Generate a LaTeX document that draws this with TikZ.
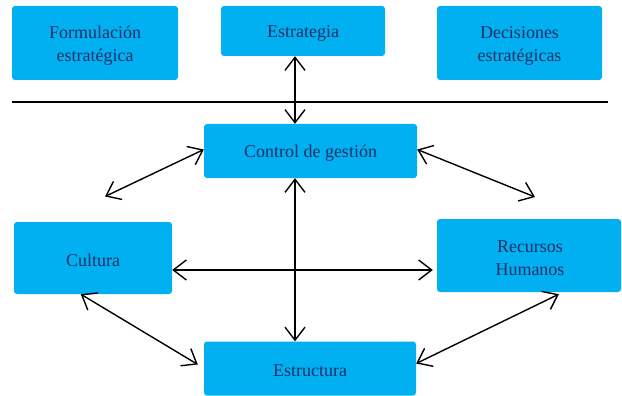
\documentclass[tikz,border=0pt]{standalone}
\usepackage{fontspec}
\setmainfont{Liberation Serif}
\usetikzlibrary{arrows.meta,calc}
\definecolor{boxblue}{HTML}{00B0F0}
\definecolor{txtblue}{RGB}{28,48,105}
\tikzset{
  box/.style={fill=boxblue, draw=none, rounded corners=3pt, inner sep=0pt},
  lbl/.style={align=center, text=txtblue, font=\fontsize{18}{23}\selectfont, inner sep=0pt},
  link/.style={line width=1.4pt, {Straight Barb[length=13pt,width=20pt]}-{Straight Barb[length=13pt,width=20pt]}}
}
\begin{document}
\begin{tikzpicture}[x=1pt,y=-1pt]
\useasboundingbox (0,0) rectangle (622,396);
\node[box, minimum width=166pt, minimum height=74pt] (form) at (95,43) {};
\node[box, minimum width=164pt, minimum height=50pt] (estr) at (303,31) {};
\node[box, minimum width=165pt, minimum height=74pt] (deci) at (519.5,43) {};
\node[box, minimum width=213pt, minimum height=54pt] (ctrl) at (310.5,151) {};
\node[box, minimum width=158pt, minimum height=72pt] (cult) at (93,258) {};
\node[box, minimum width=184pt, minimum height=73pt] (rh) at (529,255.5) {};
\node[box, minimum width=212pt, minimum height=54pt] (estruc) at (310,368.5) {};
\node[lbl] (formT) at ($(form)+(0,2.5)$) {Formulación\\estratégica};
\node[lbl] (estrT) at ($(estr)+(0,2.5)$) {Estrategia};
\node[lbl] (deciT) at ($(deci)+(0,2.5)$) {Decisiones\\estratégicas};
\node[lbl] (ctrlT) at ($(ctrl)+(0,2.5)$) {Control de gestión};
\node[lbl] (cultT) at ($(cult)+(0,2.5)$) {Cultura};
\node[lbl] (rhT) at ($(rh)+(1,2.5)$) {Recursos\\Humanos};
\node[lbl] (estrucT) at ($(estruc)+(0,2.5)$) {Estructura};
\coordinate (sepL) at (12,102);
\coordinate (sepR) at (608,102);
\draw[line width=1.6pt] (sepL) -- (sepR);
\coordinate (vx) at (295,0);
\coordinate (hy) at (0,270);
\coordinate (fl) at (105,196.5);
\coordinate (fr) at (535,197);
\draw[link] (vx |- estr.south) -- (vx |- ctrl.north);
\draw[link] (vx |- ctrl.south) -- (vx |- estruc.north);
\draw[link] (cult.east |- hy) -- ($(rh.west |- hy)+(-4,0)$);
\draw[link] ($(ctrl.west)+(0,-1.5)$) -- (fl);
\draw[link] ($(ctrl.east)+(0,-1.5)$) -- (fr);
\draw[link] ($(cult.south west)+(67,0)$) -- ($(estruc.west)+(-6,-4)$);
\draw[link] ($(rh.south west)+(122,2)$) -- ($(estruc.east)+(0,-5)$);
\end{tikzpicture}
\end{document}
